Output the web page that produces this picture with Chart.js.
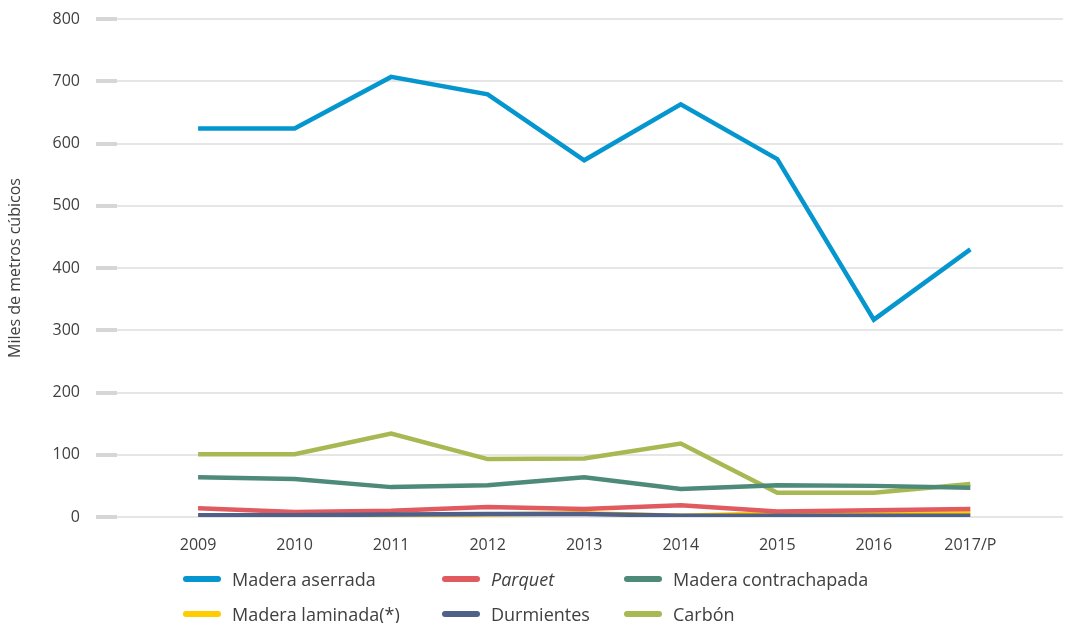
<!DOCTYPE html>
<html lang="es">
<head>
<meta charset="utf-8">
<title>Producción de madera</title>
<script src="https://cdn.jsdelivr.net/npm/chart.js@4"></script>
<style>
  body { margin: 0; background: #fff; font-family: "Open Sans", sans-serif; }
  #wrap { position: relative; width: 1072px; height: 623px; overflow: hidden; }
  #legend { position: absolute; left: 0; top: 0; }
  .item { position: absolute; display: flex; align-items: center; height: 24px; white-space: nowrap;
          font-size: 18px; color: #404040; }
  .item .sw { width: 38px; height: 6px; border-radius: 3px; margin-right: 11px; }
</style>
</head>
<body>
<div id="wrap">
  <canvas id="myChart" width="1072" height="623"></canvas>
  <div id="legend"></div>
</div>
<script>
// DATOS
const years = ["2009", "2010", "2011", "2012", "2013", "2014", "2015", "2016", "2017/P"];

const maderaAserrada = [624, 624, 707, 679, 573, 663, 575, 317, 430];
const parquet = [14, 8, 10, 16, 13, 19, 9, 11, 13];
const maderaContrachapada = [64, 61, 48, 51, 64, 45, 51, 50, 47];
const maderaLaminada = [1, 1, 2, 4, 6, 2, 6, 6, 7];
const durmientes = [3, 3, 4, 5, 5, 2, 2, 2, 2];
const carbon = [101, 101, 134, 93, 94, 118, 39, 39, 53];

const yTicks = [0, 100, 200, 300, 400, 500, 600, 700, 800];

const toPoints = (arr) => arr.map((v, i) => ({ x: i, y: v }));

const series = [
  { label: "Madera aserrada", data: maderaAserrada, color: "#0696CF" },
  { label: "Parquet", data: parquet, color: "#E05A60", italic: true },
  { label: "Madera contrachapada", data: maderaContrachapada, color: "#4E8A79" },
  { label: "Madera laminada(*)", data: maderaLaminada, color: "#FFCC00" },
  { label: "Durmientes", data: durmientes, color: "#4F6189" },
  { label: "Carbón", data: carbon, color: "#A8B853" },
];

// CHART JS
const ctx = document.getElementById("myChart");

new Chart(ctx, {
  type: "line",
  data: {
    datasets: series.map((s, i) => ({
      label: s.label,
      data: toPoints(s.data),
      borderColor: s.color,
      backgroundColor: s.color,
      borderWidth: 4.5,
      pointRadius: 0,
      tension: 0,
      order: i === 0 ? 0 : (i === 4 ? 1 : i + 1),
    })),
  },
  options: {
    responsive: false,
    animation: false,
    layout: { padding: { top: 19, right: 9, left: 0, bottom: 0 } },
    plugins: {
      legend: { display: false },
      tooltip: { enabled: false },
    },
    scales: {
      x: {
        type: "linear",
        min: -0.84,
        max: 8.96,
        grid: { display: false, drawTicks: false },
        border: { display: false },
        ticks: {
          stepSize: 1,
          includeBounds: false,
          autoSkip: false,
          maxRotation: 0,
          padding: 19,
          color: "#404040",
          font: { family: "Open Sans", size: 16 },
          callback: (v) => (Number.isInteger(v) ? years[v] : ""),
        },
        afterFit: (scale) => {
          scale.height = 106;
          scale.paddingLeft = 0;
          scale.paddingRight = 0;
        },
      },
      y: {
        min: 0,
        max: 800,
        afterBuildTicks: (scale) => { scale.ticks = yTicks.map((v) => ({ value: v })); },
        grid: {
          color: "#e6e6e6",
          lineWidth: 2,
          tickColor: "#d6d6d6",
          tickWidth: 4,
          tickLength: 21,
        },
        border: { display: false },
        ticks: {
          padding: 16,
          color: "#404040",
          font: { family: "Open Sans", size: 16 },
        },
        title: {
          display: true,
          text: "Miles de metros cúbicos",
          color: "#404040",
          font: { family: "Open Sans", size: 16 },
          padding: { top: 6, bottom: 0 },
        },
        afterFit: (scale) => {
          scale.width = 117;
          scale.paddingTop = 0;
          scale.paddingBottom = 0;
        },
      },
    },
  },
});

// LEYENDA
const legendEl = document.getElementById("legend");
const colX = [183, 442, 624];
const rowY = [579, 614];
series.forEach((s, i) => {
  const item = document.createElement("div");
  item.className = "item";
  item.style.left = colX[i % 3] + "px";
  item.style.top = (rowY[Math.floor(i / 3)] - 12) + "px";
  const sw = document.createElement("span");
  sw.className = "sw";
  sw.style.background = s.color;
  const txt = document.createElement("span");
  txt.textContent = s.label;
  if (s.italic) txt.style.fontStyle = "italic";
  item.appendChild(sw);
  item.appendChild(txt);
  legendEl.appendChild(item);
});
</script>
</body>
</html>
